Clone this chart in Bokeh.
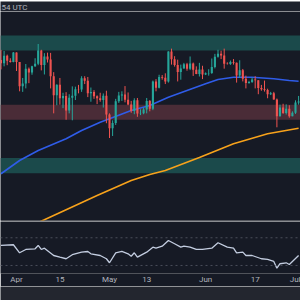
import pandas as pd
from bokeh.plotting import figure
from bokeh.layouts import column
from bokeh.models import Range1d, FixedTicker, BoxAnnotation, Span, ColumnDataSource
from bokeh.embed import file_html
from bokeh.resources import INLINE
from bokeh.core.properties import value

# ---------------- data (daily candles, 2024-03-27 .. 2024-07-01) ----------------
start_date = "2024-03-27"
end_date = "2024-07-01"

opens = [69990, 69450, 70740, 69870, 69640,
         71290, 69650, 65460, 65960, 68500, 67850, 68900, 69360, 71620, 69140,
         70590, 70060, 67190, 63930, 65740, 63420, 63790, 61280, 63470, 63840,
         64940, 64930, 66840, 66400, 64280, 64500, 63760, 63420, 63110, 63840,
         60610, 58250, 59120, 62890, 63890, 64030, 63160, 62310, 61190, 63070,
         60790, 60820, 61480, 62940, 61580, 66270, 65230, 67050, 66940, 66270,
         71450, 70140, 69120, 67930, 68530, 69280, 68500, 69390, 68300, 67600, 68360,
         67490, 67710, 67750, 68800, 70570, 71080, 70790, 69350, 69310, 69650,
         69500, 67320, 68240, 66750, 66010, 66190, 66640, 66490, 65150, 64960,
         64830, 64100, 64260, 63200, 60280, 61800, 60850, 61610, 60320, 60890,
         62680]
highs = [71730, 71550, 70920, 70300, 71370,
         71300, 69650, 66900, 69300, 68700, 69000, 70300, 72750, 71750, 71170,
         71260, 71220, 67900, 65800, 66900, 64350, 64450, 64100, 65450, 65400,
         65700, 67200, 67200, 67070, 65250, 64800, 63900, 64350, 64230, 64700,
         60800, 59600, 63300, 64500, 64600, 65500, 64400, 62950, 63400, 63450,
         61500, 61800, 63450, 63100, 66450, 66700, 67450, 67400, 67700, 71500,
         71950, 70650, 70050, 69200, 69500, 69500, 70600, 69550, 68900, 69500, 69000,
         67850, 68400, 70250, 71050, 71750, 71600, 71950, 69600, 69900, 70150,
         69550, 69950, 68450, 67300, 66400, 66950, 67200, 66500, 65700, 66450,
         65050, 64500, 64500, 63350, 62300, 62450, 62350, 62200, 61150, 63050,
         63800]
lows = [68380, 68900, 69100, 69550, 69600,
        68100, 64600, 64500, 65100, 66000, 67450, 68800, 69100, 68200, 67500,
        69560, 65100, 60800, 62200, 62300, 61700, 59700, 60800, 59600, 63100,
        64250, 64500, 65850, 63600, 62800, 63300, 62400, 62800, 61800, 59100,
        56550, 56900, 58800, 62600, 62950, 62700, 62200, 60900, 60650, 60200,
        60500, 60650, 60800, 61150, 61350, 64600, 65100, 66600, 65850, 66100,
        69200, 68850, 66300, 66600, 68500, 68150, 68250, 67250, 67550, 67150, 66700,
        67400, 67300, 67600, 68550, 70400, 70150, 68500, 69200, 69150, 69200,
        66100, 66900, 66300, 65100, 65900, 66050, 65100, 64100, 64700, 64550,
        63400, 63950, 63150, 58400, 60250, 60700, 60600, 60050, 60300, 60700,
        62300]
closes = [69450, 70740, 69870, 69640, 71290,
          69650, 65460, 65960, 68500, 67850, 68900, 69360, 71620, 69140, 70590,
          70060, 67190, 63930, 65740, 63420, 63790, 61280, 63470, 63840, 64940,
          64930, 66840, 66400, 64280, 64500, 63760, 63420, 63110, 63840, 60610,
          58250, 59120, 62890, 63890, 64030, 63160, 62310, 61190, 63070, 60790,
          60820, 61480, 62940, 61580, 66270, 65230, 67050, 66940, 66270, 71450,
          70140, 69120, 67930, 68530, 69280, 68500, 69390, 68300, 67600, 68360, 67490,
          67710, 67750, 68800, 70570, 71080, 70790, 69350, 69310, 69650, 69500,
          67320, 68240, 66750, 66010, 66190, 66640, 66490, 65150, 64960, 64830,
          64100, 64260, 63200, 60280, 61800, 60850, 61610, 60320, 60890, 62680,
          62850]

# moving averages
ma_blue_dates = ["2024-03-27", "2024-04-02", "2024-04-08", "2024-04-17", "2024-04-22",
                 "2024-04-28", "2024-05-01", "2024-05-08", "2024-05-14", "2024-05-20",
                 "2024-05-26", "2024-06-01", "2024-06-05", "2024-06-10", "2024-06-16",
                 "2024-06-23", "2024-06-28", "2024-07-01"]
ma_blue = [50390, 52680, 54400, 56420, 57850, 59280, 59860, 61290, 62150, 63580,
           64740, 65890, 66630, 67030, 67030, 66750, 66460, 66340]

ma_orange_dates = ["2024-04-05", "2024-04-10", "2024-04-27", "2024-05-08", "2024-05-14",
                   "2024-05-19", "2024-05-30", "2024-06-10", "2024-06-21", "2024-07-01"]
ma_orange = [41300, 42460, 46650, 49230, 50270, 50950, 53190, 55560, 57280, 58240]

# RSI
rsi_dates = ["2024-03-27", "2024-03-31", "2024-04-02", "2024-04-04", "2024-04-07",
             "2024-04-08", "2024-04-09", "2024-04-10", "2024-04-13", "2024-04-15",
             "2024-04-17", "2024-04-19", "2024-04-22", "2024-04-24", "2024-04-25",
             "2024-04-28", "2024-04-30", "2024-05-01", "2024-05-03", "2024-05-05",
             "2024-05-07", "2024-05-08", "2024-05-09", "2024-05-10", "2024-05-13",
             "2024-05-15", "2024-05-16", "2024-05-18", "2024-05-20", "2024-05-22",
             "2024-05-24", "2024-05-25", "2024-05-27", "2024-05-29", "2024-05-31",
             "2024-06-03", "2024-06-05", "2024-06-08", "2024-06-10", "2024-06-11",
             "2024-06-13", "2024-06-14", "2024-06-16", "2024-06-19", "2024-06-21",
             "2024-06-23", "2024-06-24", "2024-06-25", "2024-06-27", "2024-06-28",
             "2024-06-29", "2024-07-01"]
rsi = [58.9, 59.9, 48.3, 53.1, 54.1, 58.9, 53.1, 55.0, 44.4, 42.0,
       39.7, 45.5, 49.2, 50.2, 46.9, 44.4, 39.7, 33.9, 48.3, 50.2,
       46.9, 43.4, 48.3, 42.0, 49.2, 56.4, 55.0, 57.9, 66.1, 61.3,
       56.4, 57.9, 56.4, 53.1, 53.1, 55.0, 62.8, 56.4, 55.0, 48.3,
       49.2, 44.4, 44.4, 39.7, 38.7, 35.8, 26.1, 32.5, 33.9, 31.4,
       35.8, 44.4]
rsi_levels = [70, 30]

zone_top = (71630, 74210)
zone_mid = (59690, 62270)
zone_low = (50490, 53110)

tick_dates = ["2024-04-01", "2024-04-15", "2024-05-01", "2024-05-13",
              "2024-06-01", "2024-06-17", "2024-07-01"]
tick_labels = ["Apr", "15", "May", "13", "Jun", "17", "Jul"]

# ---------------- styling ----------------
BG = "#161a25"
HEADER = "#1e222d"
FOOTER = "#23262f"
TXT = "#b2b5be"
UP = "#26a69a"
DOWN = "#ef5350"
FONT = "Roboto"

DAY = 86400000
dates = pd.date_range(start_date, end_date, freq="D")
apr1 = pd.Timestamp("2024-04-01").value // 10**6
x_range = Range1d(apr1 - 16 / 3.1 * DAY, apr1 + 284 / 3.1 * DAY)

inc = [c >= o for o, c in zip(opens, closes)]
src = ColumnDataSource(dict(
    x=dates, o=opens, h=highs, l=lows, c=closes,
    top=[max(o, c) for o, c in zip(opens, closes)],
    bot=[min(o, c) for o, c in zip(opens, closes)],
    col=[UP if i else DOWN for i in inc],
))


def base(h, **kw):
    f = figure(width=300, height=h, toolbar_location=None, output_backend="svg",
               min_border_left=0, min_border_right=0, min_border_top=0,
               outline_line_color=None, **kw)
    f.grid.visible = False
    return f


# header strip
head = base(11, x_range=Range1d(0, 300), y_range=Range1d(0, 11), min_border_bottom=0,
            background_fill_color=HEADER, border_fill_color=HEADER)
head.axis.visible = False
head.text(x=[-1], y=[5.5], text=[":54 UTC"], text_color=TXT, text_font_size="8px",
          text_baseline="middle", text_font=value(FONT))

# main price pane
main = base(210, x_range=x_range, y_range=Range1d(42339, 78350), min_border_bottom=1,
            background_fill_color=BG, border_fill_color="#2a2e39")
main.axis.visible = False
for lo, hi, colr in [(zone_top[0], zone_top[1], "#1b4a4b"),
                     (zone_mid[0], zone_mid[1], "#4a2c37"),
                     (zone_low[0], zone_low[1], "#1b4a4b")]:
    main.add_layout(BoxAnnotation(bottom=lo, top=hi, fill_color=colr, fill_alpha=1,
                                  line_color=None, level="underlay"))
main.line(pd.to_datetime(ma_orange_dates), ma_orange, color="#f7a21b", line_width=1.6)
main.line(pd.to_datetime(ma_blue_dates), ma_blue, color="#2f5ce8", line_width=1.6)
main.segment(x0="x", x1="x", y0="l", y1="h", color="col", line_width=1, source=src)
main.vbar(x="x", width=0.68 * DAY, top="top", bottom="bot", fill_color="col",
          line_color=None, source=src)

# RSI pane with time axis
low_p = base(65, x_range=x_range, y_range=Range1d(18.4, 93.5), min_border_bottom=13,
             background_fill_color=BG, border_fill_color=BG)
low_p.yaxis.visible = False
for lv in rsi_levels:
    low_p.add_layout(Span(location=lv, dimension="width", line_color="#4a4e5a",
                          line_width=1, line_dash="2 3"))
low_p.line(pd.to_datetime(rsi_dates), rsi, color="#c3cde0", line_width=1.3)

ticks = [int(pd.Timestamp(d).value // 10**6) for d in tick_dates]
ax = low_p.xaxis[0]
ax.ticker = FixedTicker(ticks=ticks)
ax.major_label_overrides = {t: lab for t, lab in zip(ticks, tick_labels)}
ax.axis_line_color = None
ax.major_tick_line_color = None
ax.minor_tick_line_color = None
ax.major_tick_out = 0
ax.major_tick_in = 0
ax.minor_tick_out = 0
ax.minor_tick_in = 0
ax.major_label_standoff = 1
ax.major_label_text_color = TXT
ax.major_label_text_font_size = "8px"
ax.major_label_text_font = FONT

# bottom toolbar strip
foot = base(14, x_range=Range1d(0, 1), y_range=Range1d(0, 1), min_border_bottom=0,
            background_fill_color=FOOTER, border_fill_color=FOOTER)
foot.axis.visible = False

layout = column(head, main, low_p, foot, spacing=0)
open("out.html", "w").write(file_html(layout, INLINE))
